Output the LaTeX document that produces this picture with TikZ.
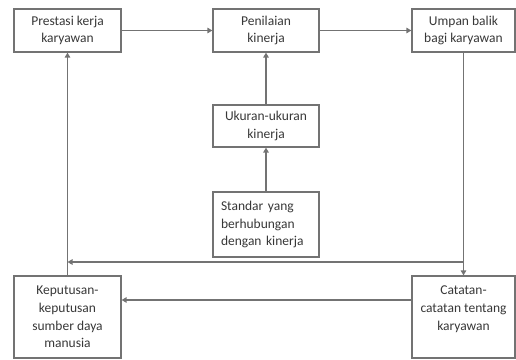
\documentclass[tikz,border=0pt]{standalone}
\usepackage{fontspec}
\setmainfont{Carlito}
\usetikzlibrary{arrows.meta}
\begin{document}
\begin{tikzpicture}[x=1pt,y=-1pt,
  box/.style={draw=black!55, line width=1.2pt, fill=white, inner sep=0pt,
    text=black!78, font=\fontsize{13.5}{17.7}\selectfont, align=center},
  conn/.style={draw=black!55, line width=1.3pt, -{Triangle[length=5pt,width=5.5pt]}}]
\useasboundingbox (0,0) rectangle (516,359);
\node[box, minimum width=107pt, minimum height=43pt] (pres) at (67.5,30.5) {Prestasi kerja\\karyawan};
\node[box, minimum width=106pt, minimum height=43pt] (pen) at (266,30.5) {Penilaian\\kinerja};
\node[box, minimum width=103pt, minimum height=43pt] (ump) at (463.5,30.5) {Umpan balik\\bagi karyawan};
\node[box, minimum width=106pt, minimum height=42pt] (uk) at (266,126) {Ukuran-ukuran\\kinerja};
\node[box, minimum width=106pt, minimum height=65pt, text width=90pt, align=left] (std) at (266,224.5) {Standar yang\\berhubungan\\dengan kinerja};
\node[box, minimum width=107pt, minimum height=82pt] (kep) at (67.5,317) {Keputusan-\\keputusan\\sumber daya\\manusia};
\node[box, minimum width=103pt, minimum height=82pt] (cat) at (463.5,317) {Catatan-\\catatan tentang\\karyawan\\\mbox{}};
\coordinate (ja) at (463.5,262);
\coordinate (jb) at (67.5,262);
\coordinate (y300) at (0,300);
\draw[conn] (pres) -- (pen);
\draw[conn] (pen) -- (ump);
\draw[conn] (uk) -- (pen);
\draw[conn] (std) -- (uk);
\draw[conn] (ump) -- (cat);
\draw[conn] (ja) -- (jb);
\draw[conn] (kep) -- (pres);
\draw[conn] (cat.west |- y300) -- (kep.east |- y300);
\end{tikzpicture}
\end{document}
